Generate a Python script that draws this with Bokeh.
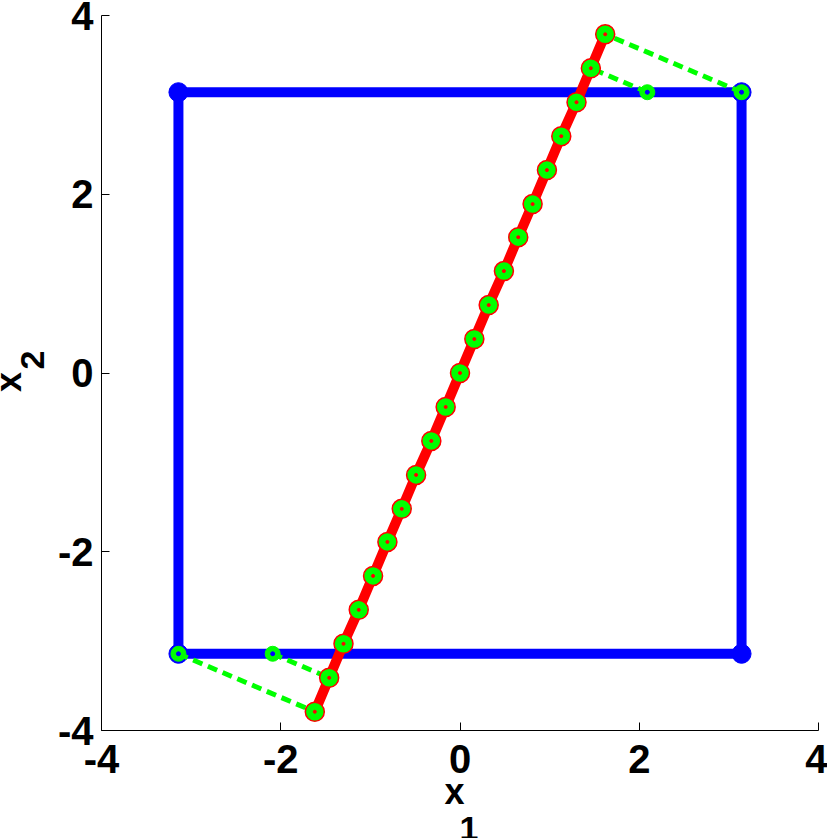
from bokeh.plotting import figure
from bokeh.models import Range1d, Label, FixedTicker
from bokeh.embed import file_html
from bokeh.resources import INLINE

# ---- data ----
square_x = [-3.14159, 3.14159, 3.14159, -3.14159, -3.14159]
square_y = [-3.14159, -3.14159, 3.14159, 3.14159, -3.14159]
corner_x = [-3.14159, 3.14159, 3.14159, -3.14159]
corner_y = [-3.14159, -3.14159, 3.14159, 3.14159]

line_x = [-1.62, -1.46, -1.30, -1.13, -0.97, -0.81, -0.65, -0.49, -0.32, -0.16, 0.0,
          0.16, 0.32, 0.49, 0.65, 0.81, 0.97, 1.13, 1.30, 1.46, 1.62]
line_y = [-3.79, -3.41, -3.03, -2.65, -2.27, -1.89, -1.52, -1.14, -0.76, -0.38, 0.0,
          0.38, 0.76, 1.14, 1.52, 1.89, 2.27, 2.65, 3.03, 3.41, 3.79]

dash_xs = [[3.14159, 1.62], [2.09, 1.46], [-3.14159, -1.62], [-2.09, -1.46]]
dash_ys = [[3.14159, 3.79], [3.14159, 3.41], [-3.14159, -3.79], [-3.14159, -3.41]]
proj_x = [3.14159, 2.09, -3.14159, -2.09]
proj_y = [3.14159, 3.14159, -3.14159, -3.14159]

ticks = [-4, -2, 0, 2, 4]
tick_labels = {-4: "-4", -2: "-2", 0: "0", 2: "2", 4: "4"}

BLUE = "#0000ff"
RED = "#ff0000"
GREEN = "#00ff00"
FONT = "Liberation Sans"

p = figure(width=827, height=838, output_backend="svg", toolbar_location=None,
           x_range=Range1d(-4, 4), y_range=Range1d(-4, 4),
           min_border_left=101, min_border_right=9, min_border_top=15, min_border_bottom=108)
p.outline_line_color = None
p.xgrid.visible = False
p.ygrid.visible = False
p.background_fill_color = "white"
p.border_fill_color = "white"

for ax in (p.xaxis, p.yaxis):
    ax.ticker = FixedTicker(ticks=ticks)
    ax.major_label_overrides = tick_labels
    ax.minor_tick_line_color = None
    ax.major_tick_in = 8
    ax.major_tick_out = 0
    ax.axis_line_color = "black"
    ax.axis_line_width = 1
    ax.major_tick_line_width = 1
    ax.major_label_text_font = FONT
    ax.major_label_text_font_style = "bold"
    ax.major_label_text_font_size = "40px"
    ax.major_label_text_color = "black"
p.xaxis.major_label_standoff = 14
p.yaxis.major_label_standoff = 8

# blue square
p.line(square_x, square_y, line_color=BLUE, line_width=10)
p.scatter(corner_x, corner_y, size=19, fill_color=BLUE, line_color=BLUE)

# green dashed projections
p.multi_line(dash_xs, dash_ys, line_color=GREEN, line_width=5, line_dash="10 6")
p.scatter(proj_x, proj_y, size=15, fill_color=GREEN, line_color=GREEN)

# red line with markers
p.line(line_x, line_y, line_color=RED, line_width=10)
p.scatter(line_x, line_y, size=19, fill_color=GREEN, line_color=RED, line_width=1.5)

# centre dots
p.scatter(line_x, line_y, size=3, fill_color=RED, line_color=RED)
p.scatter(proj_x, proj_y, size=4, fill_color=BLUE, line_color=BLUE)

# axis labels with subscripts, placed in the side panels so they are not clipped
lab = dict(text_font=FONT, text_font_style="bold", text_color="black",
           text_baseline="middle")
p.add_layout(Label(x=-0.061, y=-4.677, text="x", text_align="center",
                   text_font_size="36px", **lab), "left")
p.add_layout(Label(x=-0.006, y=-5.10, text="1", text_align="left",
                   text_font_size="34px", **lab), "left")
p.add_layout(Label(x=-5.040, y=-0.101, text="x", text_align="center", angle=1.5708,
                   text_font_size="36px", **lab), "below")
p.add_layout(Label(x=-4.775, y=0.039, text="2", text_align="left", angle=1.5708,
                   text_font_size="34px", **lab), "below")

open("out.html", "w").write(file_html(p, INLINE))
